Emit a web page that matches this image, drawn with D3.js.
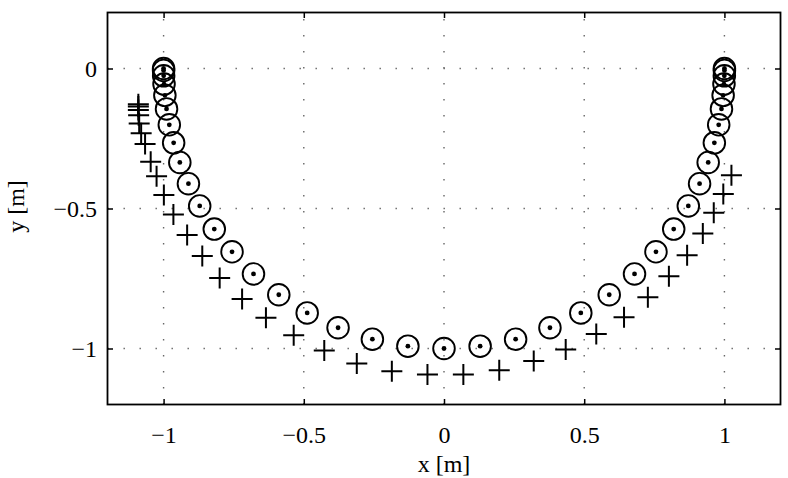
<!DOCTYPE html>
<html>
<head>
<meta charset="utf-8">
<script src="https://cdn.jsdelivr.net/npm/d3@7"></script>
<style>
  html, body { margin: 0; padding: 0; background: #fff; }
  svg { display: block; }
  svg text { font-family: "Liberation Serif", "Times New Roman", Times, serif !important; fill: #000; }
</style>
</head>
<body>
<svg id="chart" width="788" height="478"></svg>
<script>
// ---- data ----
const xTicks = [-1, -0.5, 0, 0.5, 1];
const xTickLabels = ["\u22121", "\u22120.5", "0", "0.5", "1"];
const yTicks = [0, -0.5, -1];
const yTickLabels = ["0", "\u22120.5", "\u22121"];
const xLabel = "x [m]";
const yLabel = "y [m]";

// reference trajectory (circles with centre dot)
const circleX = [-1.0000, -1.0000, -0.9997, -0.9984, -0.9954, -0.9895, -0.9796, -0.9641, -0.9421, -0.9114,
                 -0.8712, -0.8192, -0.7559, -0.6794, -0.5892, -0.4879, -0.3778, -0.2554, -0.1288, 0.0000,
                 0.1288, 0.2554, 0.3778, 0.4879, 0.5892, 0.6794, 0.7559, 0.8192, 0.8712, 0.9114,
                 0.9421, 0.9641, 0.9796, 0.9895, 0.9954, 0.9984, 0.9997, 1.0000, 1.0000];
const circleY = [0.0000, -0.0070, -0.0262, -0.0558, -0.0958, -0.1444, -0.2011, -0.2656, -0.3355, -0.4115,
                 -0.4909, -0.5736, -0.6547, -0.7337, -0.8080, -0.8729, -0.9259, -0.9668, -0.9917, -1.0000,
                 -0.9917, -0.9668, -0.9259, -0.8729, -0.8080, -0.7337, -0.6547, -0.5736, -0.4909, -0.4115,
                 -0.3355, -0.2656, -0.2011, -0.1444, -0.0958, -0.0558, -0.0262, -0.0070, 0.0000];

// estimated trajectory (plus markers)
const plusX = [-1.090, -1.090, -1.090, -1.089, -1.087, -1.080, -1.066, -1.046, -1.025, -0.999,
               -0.965, -0.916, -0.862, -0.800, -0.720, -0.635, -0.536, -0.427, -0.311, -0.186,
               -0.059, 0.069, 0.197, 0.320, 0.434, 0.543, 0.642, 0.727, 0.802, 0.867,
               0.923, 0.962, 0.996, 1.025];
const plusY = [-0.128, -0.136, -0.148, -0.167, -0.196, -0.231, -0.270, -0.333, -0.385, -0.452,
               -0.521, -0.595, -0.670, -0.748, -0.823, -0.890, -0.953, -1.007, -1.054, -1.081,
               -1.093, -1.093, -1.078, -1.045, -1.004, -0.948, -0.888, -0.817, -0.742, -0.667,
               -0.589, -0.515, -0.448, -0.381];

// ---- layout ----
const FONT = "'Liberation Serif', 'Times New Roman', Times, serif";
const L = 107.5, R = 780.5, T = 12.5, B = 404.5;
const x = d3.scaleLinear().domain([-1.2, 1.2]).range([L, R]);
const y = d3.scaleLinear().domain([-1.2, 0.2]).range([B, T]);

const svg = d3.select("#chart");

// grid (dotted)
const grid = svg.append("g").attr("stroke", "#666").attr("stroke-width", 1.4)
  .attr("stroke-dasharray", "1.4,14.6").attr("fill", "none");
grid.selectAll("line.gx").data(xTicks).join("line").attr("class", "gx")
  .attr("x1", d => x(d)).attr("x2", d => x(d)).attr("y1", B).attr("y2", T);
grid.selectAll("line.gy").data(yTicks).join("line").attr("class", "gy")
  .attr("y1", d => y(d)).attr("y2", d => y(d)).attr("x1", L).attr("x2", R);

// circles with dots
const circData = circleX.map((v, i) => [v, circleY[i]]);
const cg = svg.append("g");
cg.selectAll("circle.ring").data(circData).join("circle").attr("class", "ring")
  .attr("cx", d => x(d[0])).attr("cy", d => y(d[1])).attr("r", 10.8)
  .attr("fill", "none").attr("stroke", "#000").attr("stroke-width", 1.9);
cg.selectAll("circle.dot").data(circData).join("circle").attr("class", "dot")
  .attr("cx", d => x(d[0])).attr("cy", d => y(d[1])).attr("r", 2.4)
  .attr("fill", "#000");

// plus markers
const plusData = plusX.map((v, i) => [v, plusY[i]]);
const s = 10.5;
svg.append("g").selectAll("path").data(plusData).join("path")
  .attr("d", d => {
    const px = x(d[0]), py = y(d[1]);
    return `M${px - s},${py}H${px + s}M${px},${py - s}V${py + s}`;
  })
  .attr("stroke", "#000").attr("stroke-width", 2).attr("fill", "none");

// axes with inward ticks
const tick = 5.5;
const axB = svg.append("g").attr("transform", `translate(0,${B})`)
  .call(d3.axisBottom(x).tickValues(xTicks).tickSizeInner(-tick).tickSizeOuter(0)
    .tickFormat((d, i) => xTickLabels[i]));
axB.attr("font-family", FONT).attr("font-size", 24);
axB.selectAll("text").attr("y", 38).attr("dy", null);
const axL = svg.append("g").attr("transform", `translate(${L},0)`)
  .call(d3.axisLeft(y).tickValues(yTicks).tickSizeInner(-tick).tickSizeOuter(0)
    .tickFormat((d, i) => yTickLabels[i]));
axL.attr("font-family", FONT).attr("font-size", 24);
axL.selectAll("text").attr("x", -10.5).attr("dy", "0.34em");
const axT = svg.append("g").attr("transform", `translate(0,${T})`)
  .call(d3.axisTop(x).tickValues(xTicks).tickSizeInner(-tick).tickSizeOuter(0).tickFormat(""));
const axR = svg.append("g").attr("transform", `translate(${R},0)`)
  .call(d3.axisRight(y).tickValues(yTicks).tickSizeInner(-tick).tickSizeOuter(0).tickFormat(""));
[axB, axL, axT, axR].forEach(a => {
  a.select(".domain").remove();
  a.selectAll("line").attr("stroke", "#000").attr("stroke-width", 1.5);
});

// frame
svg.append("rect").attr("x", L).attr("y", T).attr("width", R - L).attr("height", B - T)
  .attr("fill", "none").attr("stroke", "#000").attr("stroke-width", 1.8);

// axis labels
svg.append("text").attr("x", (L + R) / 2).attr("y", 472).attr("text-anchor", "middle")
  .attr("font-family", FONT).attr("font-size", 24).text(xLabel);
svg.append("text").attr("transform", `translate(24,${(T + B) / 2 - 2}) rotate(-90)`)
  .attr("text-anchor", "middle").attr("font-family", FONT).attr("font-size", 24).text(yLabel);
</script>
</body>
</html>
